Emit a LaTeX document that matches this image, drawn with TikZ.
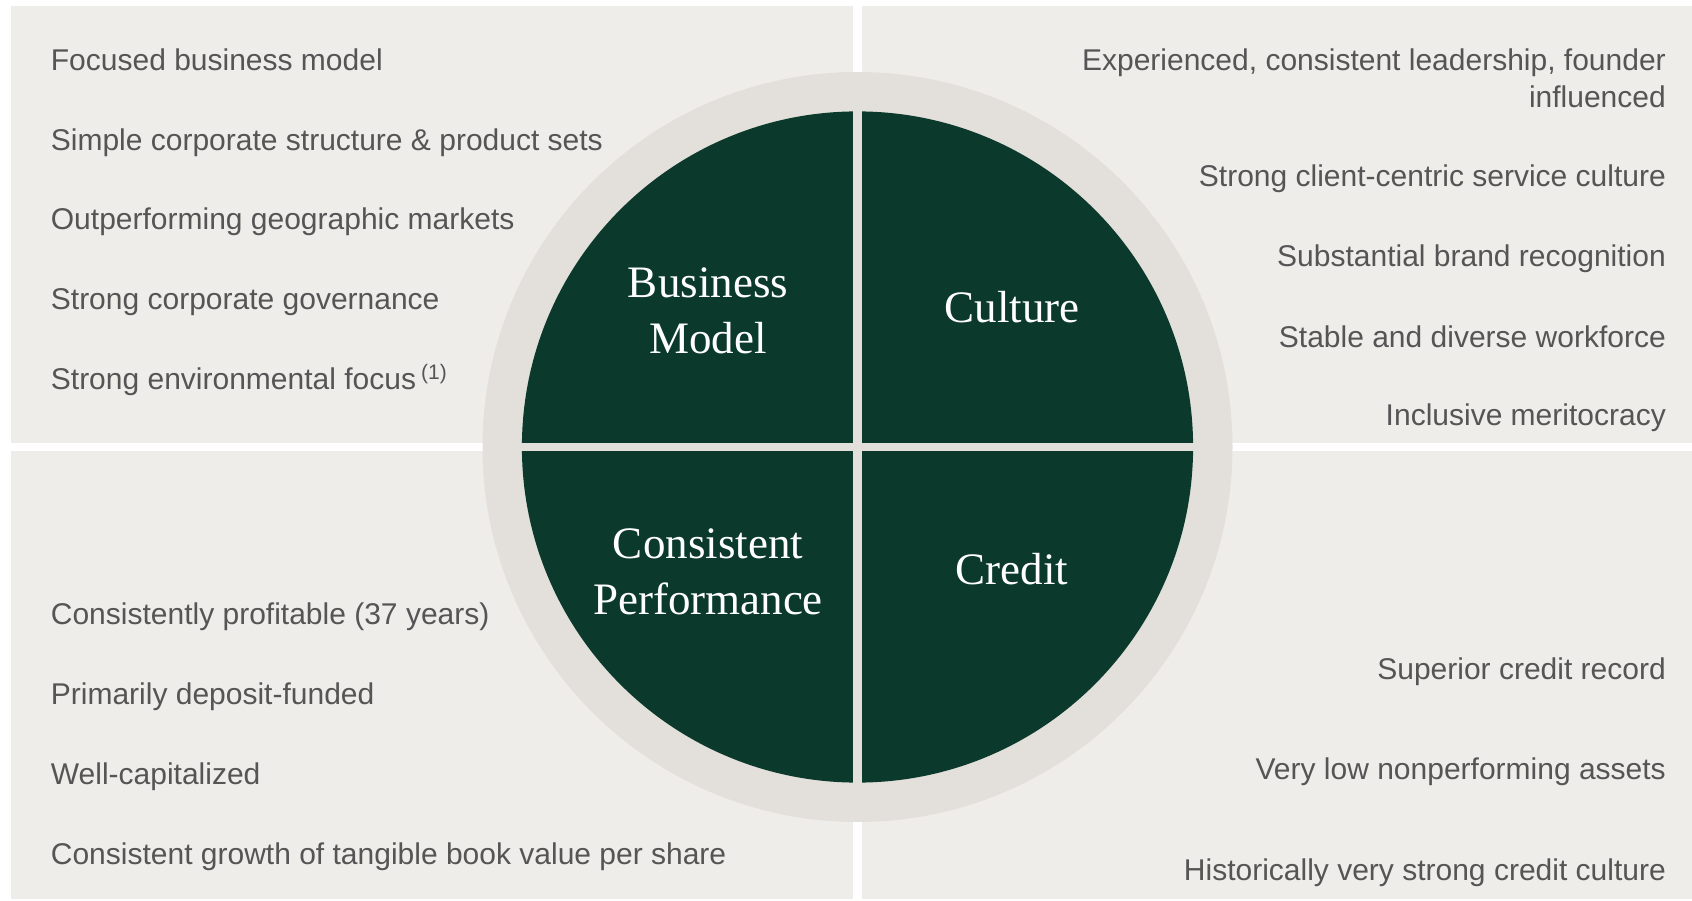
\documentclass[tikz,border=0pt]{standalone}
\usepackage{fontspec}
\setmainfont{Liberation Sans}
\newfontfamily\quadfont{Liberation Serif}
\definecolor{panel}{HTML}{EFEDE9}
\definecolor{ring}{HTML}{E3E0DB}
\definecolor{pine}{HTML}{0B3A2D}
\definecolor{txt}{HTML}{555555}
\begin{document}
\begin{tikzpicture}[x=1pt,y=-1pt,
  pointl/.style={anchor=base west,inner sep=0pt,text=txt,font=\fontsize{30}{36}\selectfont},
  pointr/.style={anchor=base east,inner sep=0pt,text=txt,font=\fontsize{30}{36}\selectfont},
  quad/.style={align=center,text=white,inner sep=0pt,font=\quadfont\fontsize{45}{56}\selectfont}]
\fill[white] (0,0) rectangle (1692,901);
\useasboundingbox (0,0) rectangle (1692,901);
% panels
\fill[panel] (10.8,6.5) rectangle (852.8,442.5);
\fill[panel] (861.5,6.5) rectangle (1692,442.5);
\fill[panel] (10.8,451.2) rectangle (852.8,899);
\fill[panel] (861.5,451.2) rectangle (1692,899);
% wheel
\fill[ring] (857.5,447) circle (375);
\fill[pine] (857.5,447) circle (335.6);
\fill[ring] (515,442.7) rectangle (1200,451.3);
\fill[ring] (853.2,105) rectangle (861.8,790);

\node[quad] (bm) at (708,310.8) {Business\\Model};
\node[quad] (cu) at (1012,307.5) {Culture};
\node[quad] (cp) at (708,571.4) {Consistent\\Performance};
\node[quad] (cr) at (1012,568.7) {Credit};

% top left
\node[pointl] (t1) at (50.7,71) {Focused business model};
\node[pointl] (t2) at (50.7,150.5) {Simple corporate structure \& product sets};
\node[pointl] (t3) at (50.7,230) {Outperforming geographic markets};
\node[pointl] (t4) at (50.7,310) {Strong corporate governance};
\node[pointl] (t5) at (50.7,389) {Strong environmental focus\,\textsuperscript{(1)}};
% top right
\node[pointr] (r1) at (1666,71) {Experienced, consistent leadership, founder};
\node[pointr] (r2) at (1666,108) {influenced};
\node[pointr] (r3) at (1666,187) {Strong client-centric service culture};
\node[pointr] (r4) at (1666,267) {Substantial brand recognition};
\node[pointr] (r5) at (1666,347) {Stable and diverse workforce};
\node[pointr] (r6) at (1666,425.5) {Inclusive meritocracy};
% bottom left
\node[pointl] (b1) at (50.7,624) {Consistently profitable (37 years)};
\node[pointl] (b2) at (50.7,704) {Primarily deposit-funded};
\node[pointl] (b3) at (50.7,784) {Well-capitalized};
\node[pointl] (b4) at (50.7,864) {Consistent growth of tangible book value per share};
% bottom right
\node[pointr] (c1) at (1666,679) {Superior credit record};
\node[pointr] (c2) at (1666,779.5) {Very low nonperforming assets};
\node[pointr] (c3) at (1666,880) {Historically very strong credit culture};
\end{tikzpicture}
\end{document}
